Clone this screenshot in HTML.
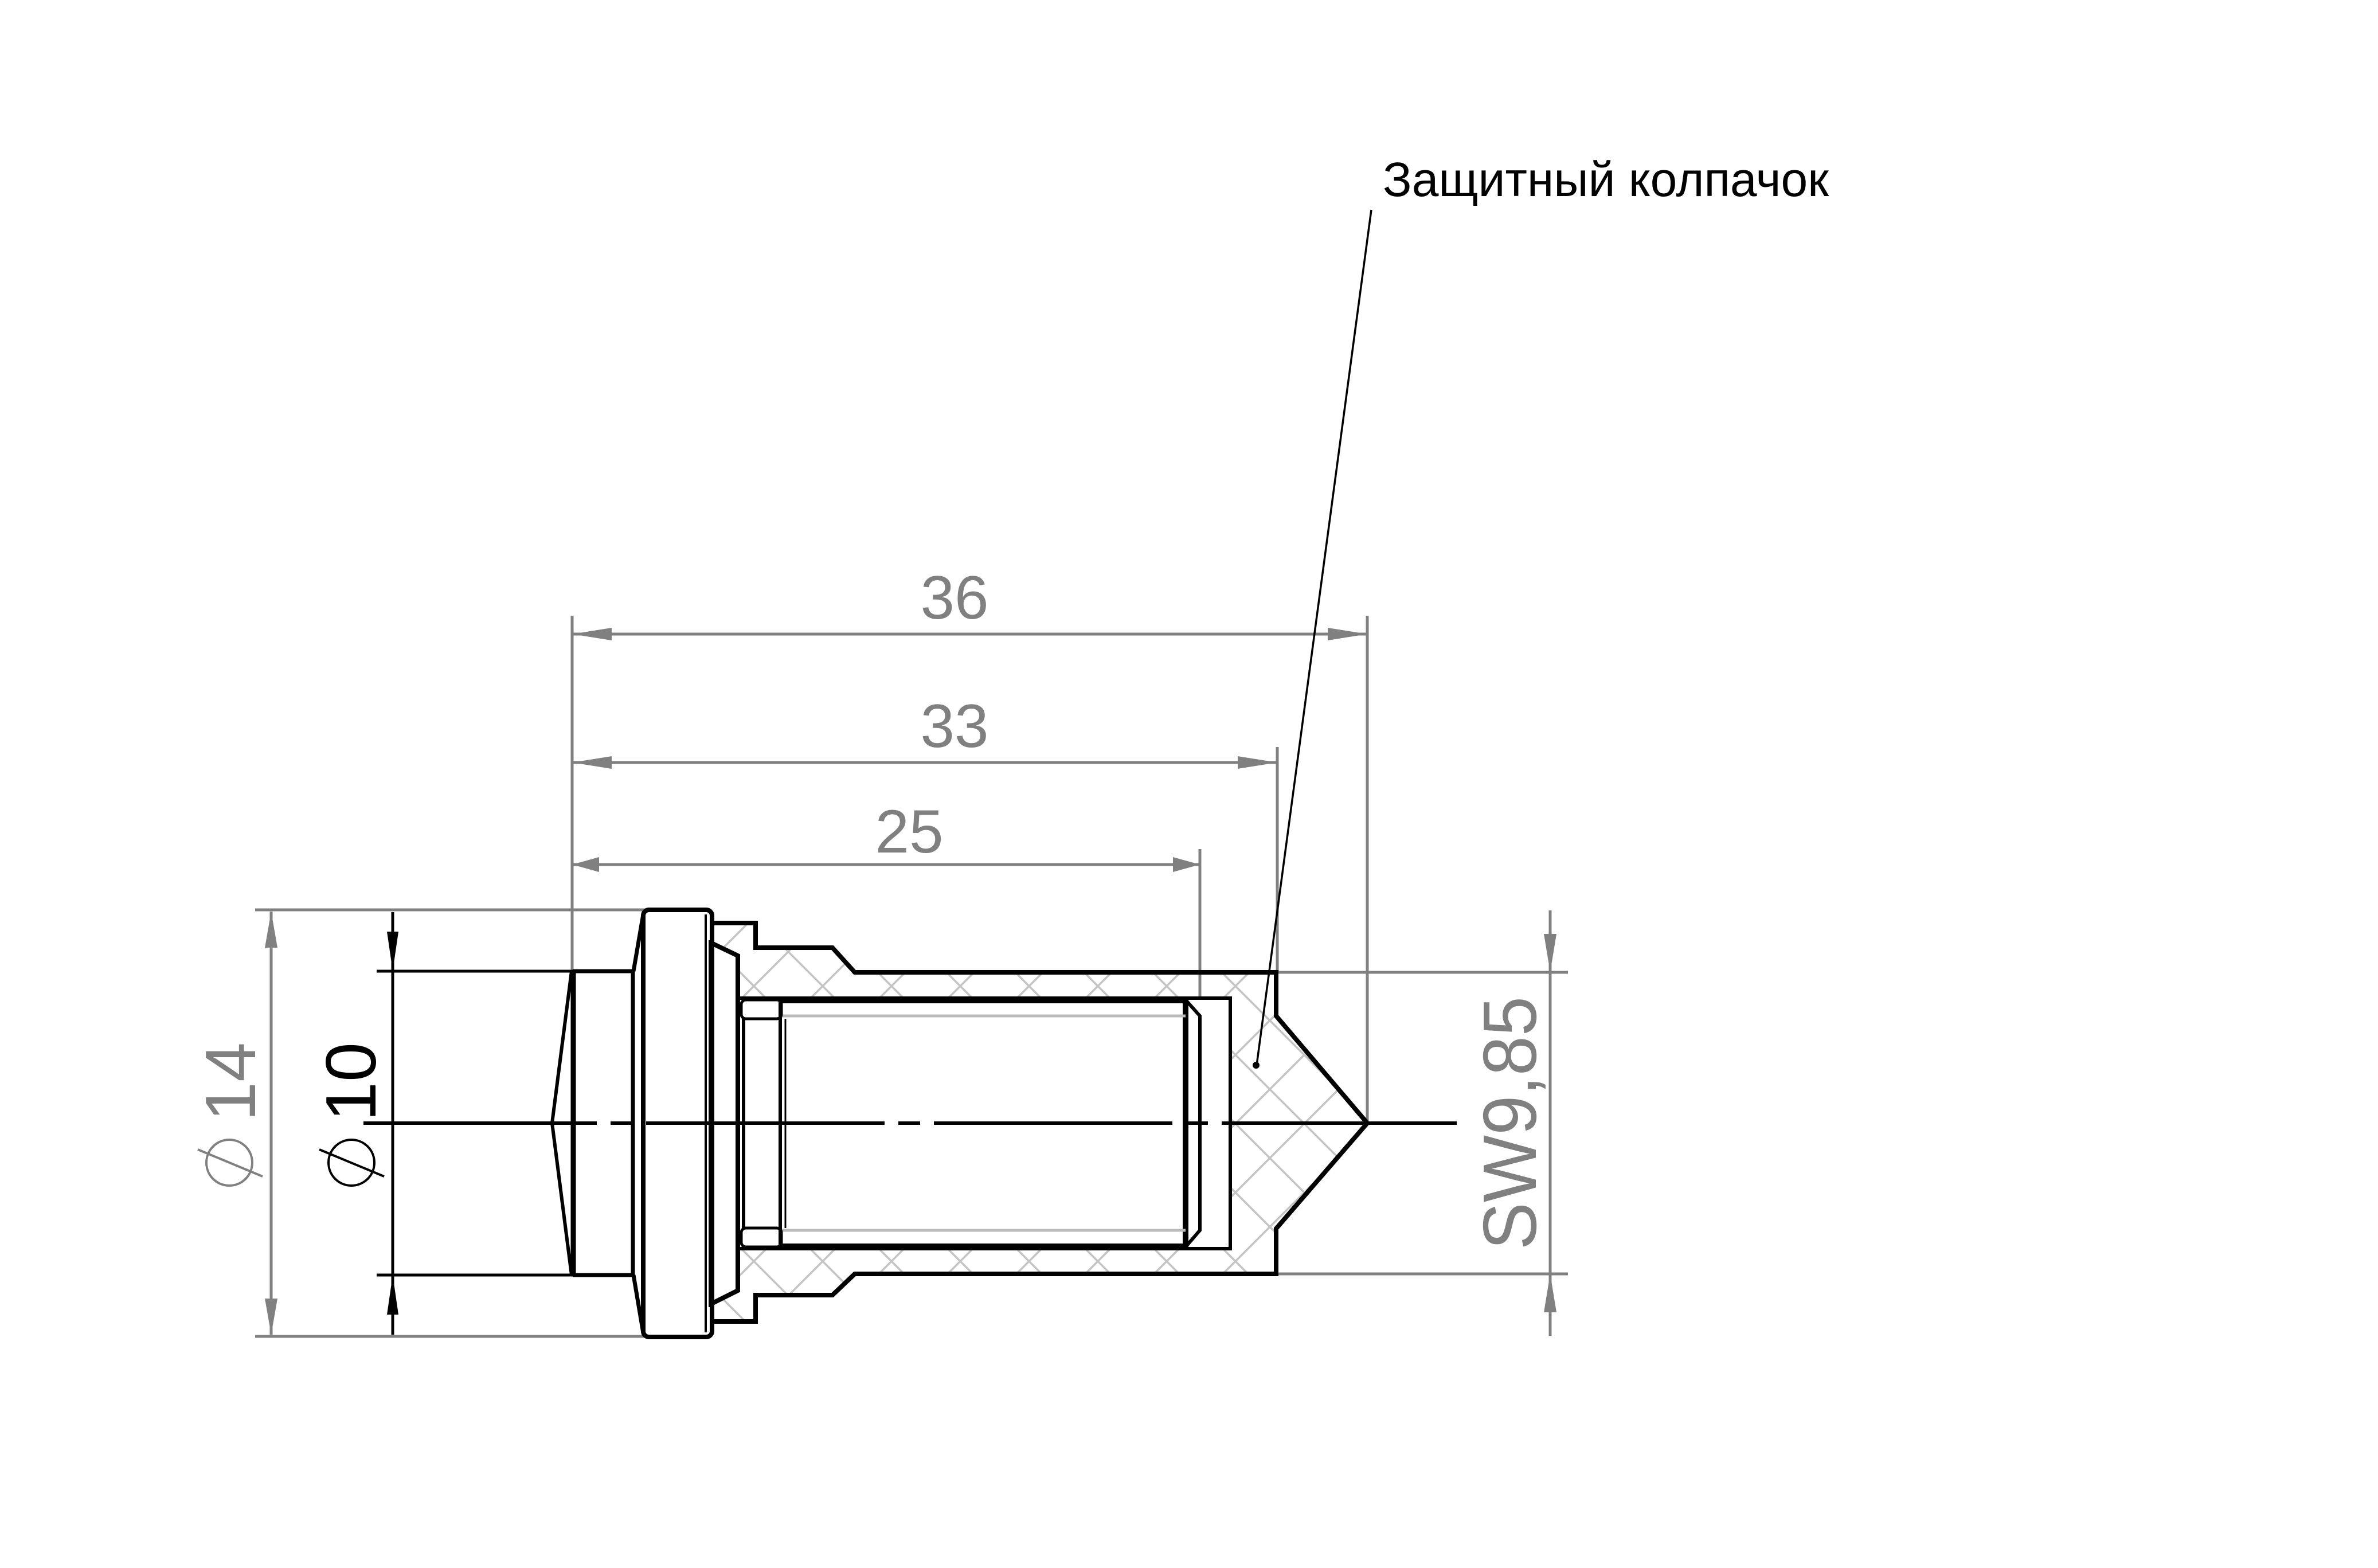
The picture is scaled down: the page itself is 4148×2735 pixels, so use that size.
<!DOCTYPE html>
<html><head><meta charset="utf-8"><style>
html,body{margin:0;padding:0;background:#fff;}
svg{display:block;}
text{font-family:"Liberation Sans",Arial,sans-serif;}
</style></head><body>
<svg xmlns="http://www.w3.org/2000/svg" width="4148" height="2735" viewBox="0 0 4148 2735">
<defs>
<pattern id="h" patternUnits="userSpaceOnUse" width="120" height="120" patternTransform="translate(1315,2200)">
<line x1="0" y1="0" x2="120" y2="120" stroke="#c4c4c4" stroke-width="3.5"/>
<line x1="0" y1="120" x2="120" y2="0" stroke="#c4c4c4" stroke-width="3.5"/>
<line x1="-60" y1="60" x2="60" y2="180" stroke="#c4c4c4" stroke-width="3.5"/>
<line x1="60" y1="-60" x2="180" y2="60" stroke="#c4c4c4" stroke-width="3.5"/>
<line x1="-60" y1="60" x2="60" y2="-60" stroke="#c4c4c4" stroke-width="3.5"/>
<line x1="60" y1="180" x2="180" y2="60" stroke="#c4c4c4" stroke-width="3.5"/>
</pattern>
</defs>
<rect width="4148" height="2735" fill="#fff"/>

<!-- gray dimension extension lines -->
<g stroke="#808080" stroke-width="5" fill="none">
<line x1="445" y1="1587" x2="1125" y2="1587"/>
<line x1="445" y1="2331" x2="1125" y2="2331"/>
<line x1="473" y1="1590" x2="473" y2="2328"/>
<line x1="998" y1="1074" x2="998" y2="1694"/>
<line x1="2385" y1="1074" x2="2385" y2="1959"/>
<line x1="2228" y1="1303" x2="2228" y2="1696"/>
<line x1="2093" y1="1481" x2="2093" y2="1772"/>
<line x1="998" y1="1106" x2="2385" y2="1106"/>
<line x1="998" y1="1330" x2="2228" y2="1330"/>
<line x1="998" y1="1508" x2="2093" y2="1508"/>
<line x1="2226" y1="1696" x2="2735" y2="1696"/>
<line x1="2226" y1="2222" x2="2735" y2="2222"/>
<line x1="2704" y1="1588" x2="2704" y2="2330"/>
</g>
<g fill="#808080">
<polygon points="473,1590 462,1653 484,1653"/>
<polygon points="473,2328 462,2265 484,2265"/>
<polygon points="998,1106 1067,1095 1067,1117"/>
<polygon points="2385,1106 2316,1095 2316,1117"/>
<polygon points="998,1330 1067,1319 1067,1341"/>
<polygon points="2228,1330 2159,1319 2159,1341"/>
<polygon points="998,1508 1045,1495 1045,1521"/>
<polygon points="2093,1508 2046,1495 2046,1521"/>
<polygon points="2704,1696 2693,1629 2715,1629"/>
<polygon points="2704,2222 2693,2289 2715,2289"/>
</g>

<!-- dimension texts -->
<g fill="#808080" font-size="107" text-anchor="middle">
<text x="1665" y="1079">36</text>
<text x="1665" y="1303">33</text>
<text x="1586" y="1487">25</text>
</g>
<text transform="translate(445,1887) rotate(-90)" font-size="124" fill="#808080" text-anchor="middle">14</text>
<circle cx="400" cy="2028" r="40" fill="none" stroke="#808080" stroke-width="4"/>
<line x1="345" y1="2005" x2="458" y2="2052" stroke="#808080" stroke-width="4"/>
<text transform="translate(655,1887) rotate(-90)" font-size="124" fill="#000" text-anchor="middle">10</text>
<circle cx="613" cy="2028" r="40" fill="none" stroke="#000" stroke-width="4"/>
<line x1="557" y1="2005" x2="670" y2="2052" stroke="#000" stroke-width="4"/>
<text transform="translate(2679,1959) rotate(-90)" font-size="132" fill="#808080" text-anchor="middle" textLength="442" lengthAdjust="spacingAndGlyphs">SW9,85</text>

<!-- Ø10 black dims -->
<g stroke="#000" stroke-width="5">
<line x1="657" y1="1694" x2="1000" y2="1694"/>
<line x1="657" y1="2224" x2="1000" y2="2224"/>
<line x1="685" y1="1591" x2="685" y2="2328"/>
</g>
<polygon points="685,1694 675,1625 695,1625" fill="#000"/>
<polygon points="685,2224 675,2293 695,2293" fill="#000"/>

<!-- cap hatched body -->
<polygon points="1237,1610 1318,1610 1318,1653 1452,1653 1491,1696 2226,1696 2226,1772 2385,1959 2226,2143 2226,2222 1491,2222 1452,2259 1318,2259 1318,2305 1237,2305" fill="url(#h)" stroke="#000" stroke-width="8" stroke-linejoin="miter"/>
<rect x="1288" y="1741" width="858" height="437" fill="#fff" stroke="#000" stroke-width="6"/>
<!-- nut left inner -->
<path d="M1237,1610 L1237,1643 L1287,1667 L1287,2251 L1237,2276 L1237,2305 Z" fill="#fff" stroke="#000" stroke-width="8"/>

<!-- threaded part -->
<g stroke="#000" fill="none">
<line x1="1361" y1="1744" x2="2068" y2="1744" stroke-width="12"/>
<line x1="1361" y1="2175" x2="2068" y2="2175" stroke-width="12"/>
<line x1="2068" y1="1744" x2="2068" y2="2175" stroke-width="10"/>
<polyline points="2068,1744 2093,1772 2093,2146 2068,2175" stroke-width="6"/>
<line x1="1363" y1="1772" x2="2068" y2="1772" stroke="#bbb" stroke-width="5"/>
<line x1="1363" y1="2146" x2="2068" y2="2146" stroke="#bbb" stroke-width="5"/>
<rect x="1293" y="1744" width="70" height="33" rx="8" stroke-width="5"/>
<rect x="1293" y="2142" width="70" height="33" rx="8" stroke-width="5"/>
<line x1="1297" y1="1777" x2="1297" y2="2142" stroke-width="6"/>
<line x1="1361" y1="1744" x2="1361" y2="2175" stroke-width="6"/>
<line x1="1370" y1="1777" x2="1370" y2="2142" stroke-width="3"/>
</g>

<!-- flange -->
<rect x="1122" y="1587" width="120" height="745" rx="10" fill="#fff" stroke="#000" stroke-width="8"/>
<line x1="1231" y1="1595" x2="1231" y2="2324" stroke="#000" stroke-width="4"/>
<line x1="1240" y1="1640" x2="1240" y2="2280" stroke="#000" stroke-width="8"/>
<polyline points="1105,1694 1122,1595" stroke="#000" stroke-width="7" fill="none"/>
<polyline points="1105,2224 1122,2325" stroke="#000" stroke-width="7" fill="none"/>

<!-- left body -->
<g stroke="#000" fill="none">
<line x1="999" y1="1694" x2="1105" y2="1694" stroke-width="7"/>
<line x1="999" y1="2224" x2="1105" y2="2224" stroke-width="7"/>
<line x1="1000" y1="1694" x2="1000" y2="2224" stroke-width="9"/>
<line x1="1104" y1="1694" x2="1104" y2="2224" stroke-width="7"/>
<polyline points="997,1694 963,1959 997,2224" stroke-width="6"/>
</g>

<!-- centerline -->
<line x1="634" y1="1959" x2="2150" y2="1959" stroke="#000" stroke-width="6" stroke-dasharray="416 24 38 24" stroke-dashoffset="9"/>
<line x1="2150" y1="1959" x2="2541" y2="1959" stroke="#000" stroke-width="6"/>

<!-- leader -->
<line x1="2392" y1="366" x2="2192" y2="1858" stroke="#000" stroke-width="3.5"/>
<circle cx="2191" cy="1858" r="6" fill="#000"/>
<text x="2412" y="342" font-size="84" fill="#000" font-family="Liberation Sans, sans-serif" textLength="778" lengthAdjust="spacingAndGlyphs">Защитный колпачок</text>
</svg>
</body></html>
